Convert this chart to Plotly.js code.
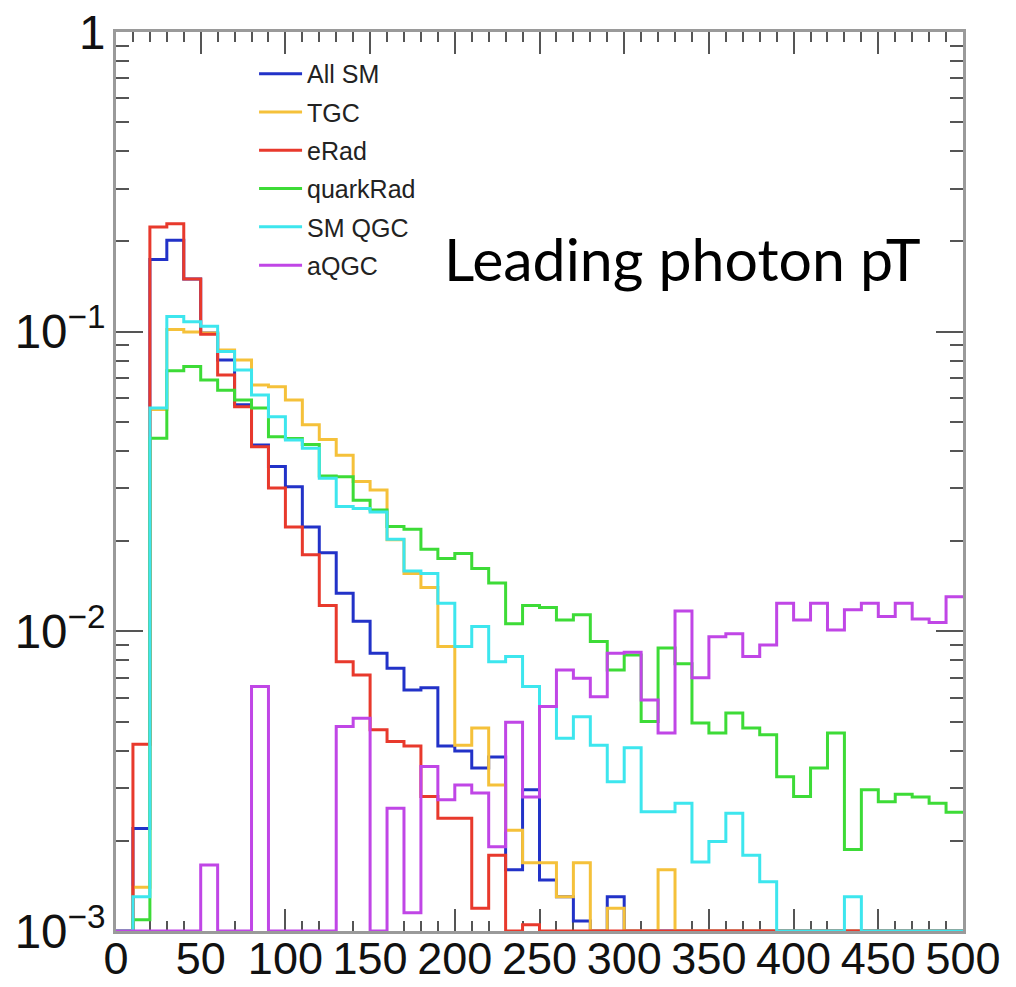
<!DOCTYPE html>
<html><head><meta charset="utf-8">
<script src="https://cdn.plot.ly/plotly-3.0.1.min.js"></script>
<style>html,body{margin:0;padding:0;background:#fff}#chart{width:1016px;height:987px}</style>
</head><body><div id="chart"></div>
<script>
// Leading photon pT histograms, 10-unit bins from 0 to 500 (normalised, log scale)
const binEdges = Array.from({length: 51}, (_, i) => i * 10);

const allSM = [0, 0.0022, 0.174, 0.202, 0.150, 0.099, 0.0805, 0.057, 0.0419, 0.0355,
  0.0304, 0.0223, 0.0183, 0.0134, 0.0108, 0.00845, 0.00753, 0.00637, 0.00648, 0.00414,
  0.00399, 0.0035, 0.00381, 0.0016, 0.00296, 0.00148, 0.0013, 0.00108, 0, 0.0013,
  0, 0, 0, 0, 0, 0, 0, 0, 0, 0,
  0, 0, 0, 0, 0, 0, 0, 0, 0, 0];

const tgc = [0, 0.0014, 0.055, 0.1016, 0.0998, 0.099, 0.0869, 0.0805, 0.0664, 0.0655,
  0.0592, 0.0489, 0.0437, 0.0387, 0.0316, 0.0296, 0.0202, 0.0156, 0.0140, 0.0089,
  0.00417, 0.00476, 0.00307, 0.00217, 0.00169, 0.00169, 0.0013, 0.00169, 0, 0.00119,
  0, 0, 0.0016, 0, 0, 0, 0, 0, 0, 0,
  0, 0, 0, 0, 0, 0, 0, 0, 0, 0];

const eRad = [0, 0.0042, 0.2235, 0.229, 0.150, 0.098, 0.0717, 0.0562, 0.0413, 0.0301,
  0.0223, 0.0180, 0.0122, 0.00792, 0.00715, 0.00469, 0.00429, 0.00414, 0.00281, 0.00238,
  0.00238, 0.00119, 0.00179, 0, 0.00105, 0, 0, 0, 0, 0,
  0, 0, 0, 0, 0, 0, 0, 0, 0, 0,
  0, 0, 0, 0, 0, 0, 0, 0, 0, 0];

const quarkRad = [0, 0.00109, 0.0441, 0.0741, 0.0765, 0.069, 0.0637, 0.0592, 0.0556, 0.0446,
  0.0440, 0.0420, 0.0330, 0.0328, 0.0274, 0.0254, 0.0224, 0.0219, 0.0188, 0.0175,
  0.0182, 0.0162, 0.0145, 0.0106, 0.0122, 0.0120, 0.0109, 0.01135, 0.00924, 0.00743,
  0.00834, 0.0050, 0.00879, 0.0078, 0.00494, 0.00458, 0.00534, 0.00476, 0.00452, 0.00327,
  0.00281, 0.0035, 0.00458, 0.00187, 0.00296, 0.0027, 0.00286, 0.0028, 0.00267, 0.00249];

const smQGC = [0, 0.0013, 0.0556, 0.1123, 0.108, 0.1042, 0.0858, 0.0745, 0.0615, 0.052,
  0.0435, 0.0408, 0.0324, 0.0261, 0.0257, 0.0250, 0.0203, 0.0159, 0.0156, 0.0124,
  0.0089, 0.01037, 0.00792, 0.00824, 0.00654, 0.00561, 0.0044, 0.00519, 0.00417, 0.00315,
  0.00409, 0.0025, 0.0025, 0.00267, 0.0017, 0.00199, 0.00247, 0.00179, 0.00146, 0,
  0, 0, 0, 0.0013, 0, 0, 0, 0, 0, 0];

const aQGC = [0, 0, 0, 0, 0, 0.00166, 0, 0, 0.00654, 0,
  0, 0, 0, 0.00481, 0.00513, 0, 0.00257, 0.00115, 0.00354, 0.00274,
  0.00307, 0.00289, 0.00191, 0.00497, 0.0028, 0.00561, 0.00743, 0.00697, 0.00605, 0.00845,
  0.00852, 0.0059, 0.00458, 0.0117, 0.0070, 0.0096, 0.00982, 0.00824, 0.00901, 0.0124,
  0.0109, 0.0124, 0.0101, 0.0118, 0.0124, 0.0112, 0.0124, 0.0110, 0.0107, 0.01305];

const seriesNames = ['All SM', 'TGC', 'eRad', 'quarkRad', 'SM QGC', 'aQGC'];
const seriesValues = [allSM, tgc, eRad, quarkRad, smQGC, aQGC];
const seriesColors = ['#2232c8', '#f5c13a', '#e8392c', '#3ddb37', '#3de6ee', '#c046e6'];

const xTickVals = [0, 50, 100, 150, 200, 250, 300, 350, 400, 450, 500];

const YMIN = 1e-3; // empty bins are drawn on the frame floor, as ROOT does

function stepY(vals) {
  const y = vals.map(v => Math.max(v, YMIN));
  y.push(y[y.length - 1]);
  return y;
}

const traces = seriesNames.map((name, k) => ({
  type: 'scatter',
  mode: 'lines',
  name: name,
  legendgroup: name,
  x: binEdges,
  y: stepY(seriesValues[k]),
  line: {shape: 'hv', color: seriesColors[k], width: 3},
  hoverinfo: 'skip'
}));

const tickFontFamily = '"Liberation Sans", Arial, Helvetica, sans-serif';

const layout = {
  width: 1016, height: 987,
  margin: {l: 116, r: 53, t: 32, b: 56, pad: 0},
  paper_bgcolor: '#ffffff', plot_bgcolor: '#ffffff',
  showlegend: true,
  legend: {
    x: 0.163, y: 0.979, xanchor: 'left', yanchor: 'top',
    bgcolor: 'rgba(0,0,0,0)', borderwidth: 0,
    font: {family: tickFontFamily, size: 25, color: '#222'},
    tracegroupgap: 2.8, itemwidth: 43
  },
  xaxis: {
    range: [0, 500], tickvals: xTickVals,
    ticks: 'inside', ticklen: 22, tickwidth: 2, tickcolor: '#555',
    showline: true, linecolor: '#9a9a9a', linewidth: 3, mirror: 'ticks',
    showgrid: false, zeroline: false, layer: 'below traces',
    ticklabelstandoff: -14,
    tickfont: {family: tickFontFamily, size: 45, color: '#111'},
    minor: {dtick: 10, tick0: 0, ticks: 'inside', ticklen: 10, tickwidth: 2, tickcolor: '#555', showgrid: false}
  },
  yaxis: {
    type: 'log', range: [-3, 0], dtick: 1, tick0: 0, exponentformat: 'power',
    ticks: 'inside', ticklen: 27, tickwidth: 2, tickcolor: '#555',
    showline: true, linecolor: '#9a9a9a', linewidth: 3, mirror: 'ticks',
    showgrid: false, zeroline: false, layer: 'below traces',
    tickfont: {family: tickFontFamily, size: 38, color: '#111'},
    minor: {dtick: 'D1', ticks: 'inside', ticklen: 13, tickwidth: 2, tickcolor: '#555', showgrid: false}
  },
  annotations: [{
    xref: 'paper', yref: 'paper', x: 0.385, y: 0.748,
    xanchor: 'left', yanchor: 'middle', showarrow: false,
    text: 'Leading photon pT',
    font: {family: 'Lato, "Open Sans", sans-serif', size: 59, color: '#000'}
  }]
};

Plotly.newPlot('chart', traces, layout, {displayModeBar: false, staticPlot: true});
</script>
</body></html>
